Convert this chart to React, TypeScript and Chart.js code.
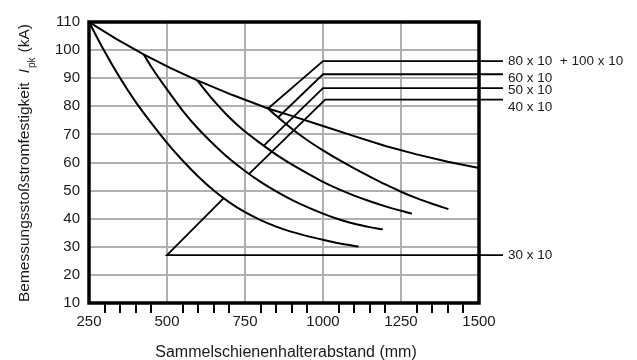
import React, { useEffect, useRef } from "react";
import { Chart, registerables } from "chart.js";

Chart.register(...registerables);

// ---------- data ----------
const xLabelTicks = [250, 500, 750, 1000, 1250, 1500];
const xMin = 250;
const xMax = 1500;
const yMin = 10;
const yMax = 110;

// upper envelope (top limit line)
const envX = [250, 337, 425, 510, 597, 710, 824, 900, 1000, 1100, 1200, 1300, 1400, 1500];
const envY = [110, 104, 98.5, 93.7, 89.2, 84, 79.2, 76.6, 73, 69.4, 65.9, 62.9, 60.3, 58];

// curve for 30 x 10
const c1X = [250, 300, 350, 400, 450, 500, 550, 600, 650, 700, 750, 800, 850, 900, 950, 1000, 1050, 1114];
const c1Y = [110, 99.5, 90, 81.5, 74, 67, 60.7, 55, 50, 45.8, 42.3, 39.5, 37.2, 35.3, 33.8, 32.5, 31.3, 30.1];

// curve for 40 x 10
const c2X = [425, 450, 500, 550, 600, 650, 700, 750, 800, 850, 900, 950, 1000, 1050, 1100, 1150, 1192];
const c2Y = [98.5, 94, 86, 78.5, 72, 66.4, 61.3, 57, 53.1, 49.7, 46.7, 44.1, 41.8, 39.8, 38.2, 37, 36.2];

// curve for 50 x 10
const c3X = [597, 650, 700, 750, 800, 850, 900, 950, 1000, 1050, 1100, 1150, 1200, 1250, 1285];
const c3Y = [89.2, 82, 76, 71, 66.8, 62.8, 59.3, 56.1, 53.1, 50.5, 48.2, 46.2, 44.4, 42.8, 41.8];

// curve for 60 x 10
const c4X = [824, 850, 900, 950, 1000, 1050, 1100, 1150, 1200, 1250, 1300, 1350, 1402];
const c4Y = [79.2, 76.6, 72, 67.9, 64.3, 61, 57.9, 55, 52.2, 49.6, 47.3, 45.3, 43.4];

// leader lines to the profile labels
const labelNames = ["80 x 10  + 100 x 10", "60 x 10", "50 x 10", "40 x 10", "30 x 10"];
const leaderEndX = 1577;
const leaderStartX = [1000, 1000, 1000, 1007, 500];
const leaderLevelY = [96.1, 91.4, 86.45, 82.4, 27.05];
const pointerX = [824, 857.5, 809.5, 761.5, 681];
const pointerY = [79.2, 76.2, 65.9, 55.8, 47.2];
const labelTextY = [96.0, 90.1, 85.55, 79.55, 26.95];

const xTitle = "Sammelschienenhalterabstand (mm)";
const yTitleMain = "Bemessungsstoßstromfestigkeit";
const yTitleSymbol = "I";
const yTitleSub = "pk";
const yTitleUnit = "(kA)";

// ---------- helpers ----------
const FONT = '"Liberation Sans", Arial, Helvetica, sans-serif';
const TEXT = "#1a1a1a";
const GRID = "#b0b0b0";

const zip = (xs: number[], ys: number[]) => xs.map((x, i) => ({ x, y: ys[i] }));
const isMajor = (v: number) => xLabelTicks.includes(v);

const overlay = {
  id: "overlay",
  afterDatasetsDraw(chart: any) {
    const { ctx, chartArea: a, scales } = chart;
    const sx = scales.x;
    const sy = scales.y;
    ctx.save();
    // frame
    ctx.strokeStyle = "#000";
    ctx.lineWidth = 3.5;
    ctx.strokeRect(a.left, a.top, a.right - a.left, a.bottom - a.top);

    // profile labels
    ctx.fillStyle = TEXT;
    ctx.font = `13.5px ${FONT}`;
    ctx.textAlign = "left";
    ctx.textBaseline = "middle";
    labelNames.forEach((t, i) => {
      ctx.fillText(t, sx.getPixelForValue(leaderEndX) + 5, sy.getPixelForValue(labelTextY[i]));
    });

    // x title
    ctx.font = `16px ${FONT}`;
    ctx.textAlign = "center";
    ctx.textBaseline = "alphabetic";
    ctx.fillText(xTitle, (a.left + a.right) / 2 + 2, 357);

    // y title (rotated, with italic symbol and subscript)
    ctx.save();
    ctx.translate(29, 302);
    ctx.rotate(-Math.PI / 2);
    ctx.textAlign = "left";
    ctx.textBaseline = "alphabetic";
    let pos = 0;
    ctx.font = `15.5px ${FONT}`;
    ctx.fillText(yTitleMain, pos, 0);
    pos += ctx.measureText(yTitleMain).width + 9;
    ctx.font = `italic 15.5px ${FONT}`;
    ctx.fillText(yTitleSymbol, pos, 0);
    pos += ctx.measureText(yTitleSymbol).width + 1;
    ctx.font = `10px ${FONT}`;
    ctx.fillText(yTitleSub, pos, 6);
    pos += ctx.measureText(yTitleSub).width + 5;
    ctx.font = `15.5px ${FONT}`;
    ctx.fillText(yTitleUnit, pos, 0);
    ctx.restore();

    ctx.restore();
  },
};

export default function App() {
  const canvasRef = useRef<HTMLCanvasElement | null>(null);

  useEffect(() => {
    const canvas = canvasRef.current;
    if (!canvas) return;

    const curveStyle = {
      borderColor: "#000",
      borderWidth: 2,
      pointRadius: 0,
      fill: false,
      cubicInterpolationMode: "monotone" as const,
    };
    const straightStyle = {
      borderColor: "#000",
      borderWidth: 2,
      pointRadius: 0,
      fill: false,
      tension: 0,
    };

    const leaderSets = labelNames.map((name, i) => ({
      label: name,
      data: [
        { x: pointerX[i], y: pointerY[i] },
        { x: leaderStartX[i], y: leaderLevelY[i] },
        { x: leaderEndX, y: leaderLevelY[i] },
      ],
      ...straightStyle,
      borderWidth: 1.8,
      clip: false as any,
    }));

    const chart = new Chart(canvas, {
      type: "line",
      data: {
        datasets: [
          { label: "envelope", data: zip(envX, envY), ...straightStyle },
          { label: "30 x 10", data: zip(c1X, c1Y), ...curveStyle },
          { label: "40 x 10", data: zip(c2X, c2Y), ...curveStyle },
          { label: "50 x 10", data: zip(c3X, c3Y), ...curveStyle },
          { label: "60 x 10", data: zip(c4X, c4Y), ...curveStyle },
          ...leaderSets,
        ] as any,
      },
      options: {
        responsive: false,
        animation: false,
        layout: { padding: { top: 22, right: 158, left: 0, bottom: 0 } },
        plugins: {
          legend: { display: false },
          tooltip: { enabled: false },
        },
        scales: {
          x: {
            type: "linear",
            min: xMin,
            max: xMax,
            afterFit: (s: any) => {
              s.height = 57;
            },
            border: { display: false },
            grid: {
              color: (c: any) => (c.tick && isMajor(c.tick.value) ? GRID : "rgba(0,0,0,0)"),
              lineWidth: 2,
              drawTicks: true,
              tickLength: 10,
              tickWidth: 2,
              tickColor: (c: any) => (c.tick && isMajor(c.tick.value) ? "rgba(0,0,0,0)" : "#000"),
            },
            ticks: {
              stepSize: 50,
              autoSkip: false,
              maxRotation: 0,
              minRotation: 0,
              padding: 0,
              color: TEXT,
              font: { family: FONT, size: 15 },
              callback: (v: any) => (isMajor(Number(v)) ? String(v) : ""),
            },
          },
          y: {
            type: "linear",
            min: yMin,
            max: yMax,
            afterFit: (s: any) => {
              s.width = 89;
            },
            border: { display: false },
            grid: { color: GRID, lineWidth: 2, drawTicks: false },
            ticks: {
              stepSize: 10,
              padding: 9,
              color: TEXT,
              font: { family: FONT, size: 15 },
            },
          },
        },
      } as any,
      plugins: [overlay],
    });

    return () => chart.destroy();
  }, []);

  return (
    <div style={{ position: "fixed", left: 0, top: 0, width: 637, height: 360, background: "#fff" }}>
      <canvas ref={canvasRef} width={637} height={360} style={{ display: "block" }} />
    </div>
  );
}
